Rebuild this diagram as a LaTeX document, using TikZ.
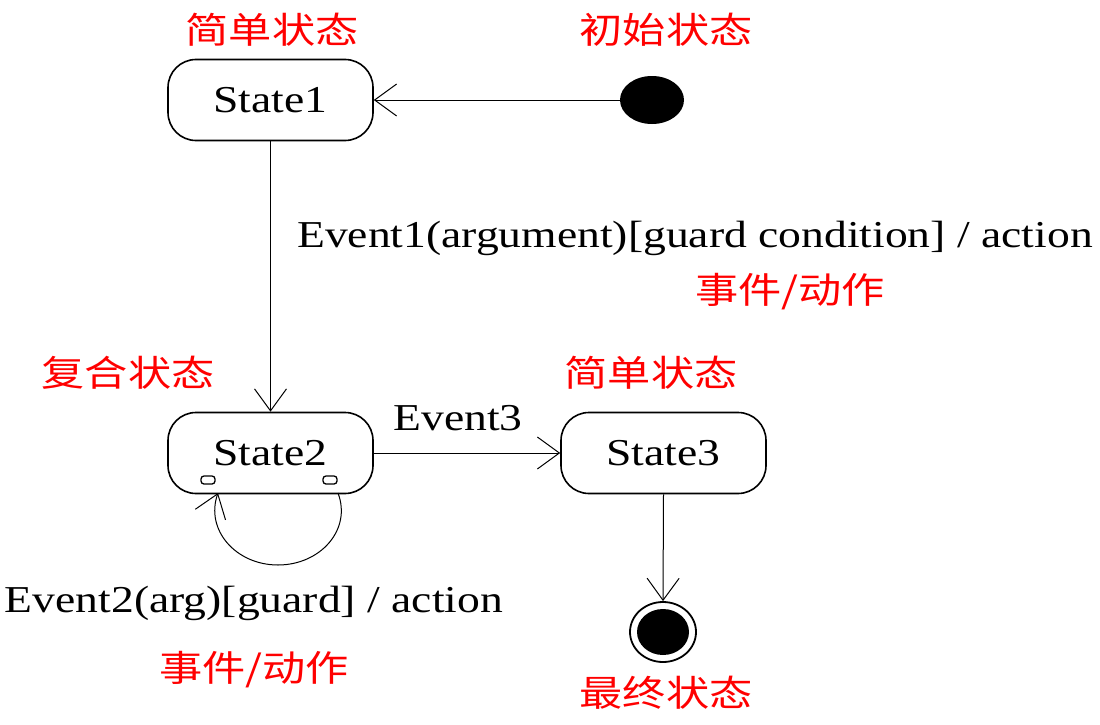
\documentclass[tikz,border=0pt]{standalone}
\usepackage{fontspec}
\setmainfont{Liberation Serif}
\newfontfamily\cjk{Noto Sans CJK SC}
\usetikzlibrary{arrows.meta,shapes.geometric}
\newcommand{\wl}[1]{\scalebox{1.2}[1]{#1}}
\newcommand{\wc}[1]{\scalebox{1.2}[1]{#1}}
\begin{document}
\begin{tikzpicture}[x=1pt,y=-1pt,
  st/.style={draw,line width=1.6pt,rounded corners=28pt,minimum width=205pt,minimum height=81pt,font=\fontsize{38}{42}\selectfont},
  lab/.style={font=\fontsize{38}{42}\selectfont},
  cn/.style={text=red,font=\cjk\fontsize{36}{40}\selectfont},
  arr/.style={line width=1pt,-{Straight Barb[length=22pt,width=32pt,line width=1pt]}}]
\useasboundingbox (0,0) rectangle (1100,725);
\node[st] (s1) at (270.5,100) {\wl{State1}};
\node[st] (s2) at (270.5,453) {\wl{State2}};
\node[st] (s3) at (663.5,453) {\wl{State3}};
\node[ellipse,fill=black,minimum width=64pt,minimum height=48pt,inner sep=0] (init) at (652,100) {};
\node[ellipse,draw,line width=1.8pt,minimum width=66pt,minimum height=60pt,inner sep=0] (fin) at (663,632) {};
\node[ellipse,fill=black,minimum width=52pt,minimum height=46pt,inner sep=0] at (fin) {};
\draw[line width=1.3pt,rounded corners=3pt] (201,476) rectangle (215,484);
\draw[line width=1.3pt,rounded corners=3pt] (323,476) rectangle (337,484);
\draw[arr] (init) -- (s1.east);
\draw[arr] (s1.south) -- (s2.north);
\draw[arr] (s2.east) -- (s3.west);
\draw[arr] (s3.south) -- (fin.north);
\coordinate (la) at (338,493);
\coordinate (lb) at (218,493);
\draw[arr] (la) .. controls (352,530) and (320,565) .. (278,565) .. controls (236,565) and (205,530) .. (lb);
\node[cn] at (272,30) {\wc{简单状态}};
\node[cn] at (666,30) {\wc{初始状态}};
\node[lab] at (695,238) {\wl{Event1(argument)[guard condition] / action}};
\node[cn] at (790,292) {\wc{事件/动作}};
\node[cn] at (128,373) {\wc{复合状态}};
\node[cn] at (651,373) {\wc{简单状态}};
\node[lab] at (458,418) {\wl{Event3}};
\node[lab] at (254,603) {\wl{Event2(arg)[guard] / action}};
\node[cn] at (254,670) {\wc{事件/动作}};
\node[cn] at (666,693) {\wc{最终状态}};
\end{tikzpicture}
\end{document}
